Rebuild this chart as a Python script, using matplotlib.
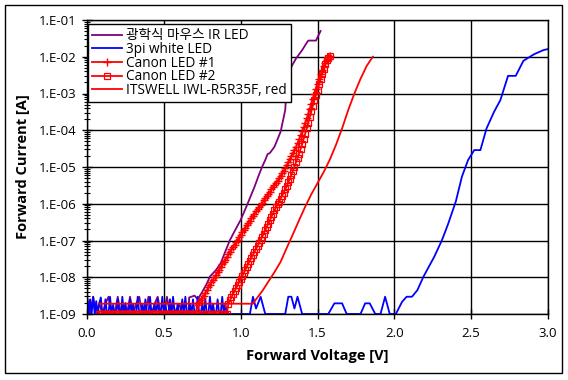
import numpy as np
import matplotlib
matplotlib.use('Agg')
import matplotlib.pyplot as plt
import matplotlib.ticker as ticker
from matplotlib.patches import Rectangle

plt.rcParams['font.family'] = ['Open Sans', 'Noto Sans CJK KR', 'DejaVu Sans']

# log10 of forward current [A]
# purple: optical mouse IR LED
ir_v = [0.00, 0.02, 0.04, 0.06, 0.08, 0.10, 0.12, 0.14, 0.16, 0.18, 0.20, 0.22,
        0.24, 0.26, 0.28, 0.30, 0.32, 0.34, 0.36, 0.38, 0.40, 0.42, 0.44, 0.46,
        0.48, 0.50, 0.52, 0.54, 0.56, 0.58, 0.60, 0.62, 0.64,
        0.66, 0.665, 0.70, 0.72, 0.75, 0.78, 0.80, 0.84, 0.87, 0.90, 0.93, 0.96,
        1.00, 1.04, 1.09, 1.12, 1.14, 1.16, 1.175, 1.19, 1.22, 1.26, 1.29, 1.295,
        1.33, 1.36, 1.40, 1.43, 1.44, 1.49, 1.52]
ir_log = [-8.53, -9, -8.53, -9, -8.72, -9, -8.72, -8.53, -9, -9, -8.53, -9,
          -8.72, -9, -8.53, -9, -8.72, -8.53, -9, -9, -8.53, -9, -8.72, -8.53,
          -9, -9, -8.53, -9, -8.72, -9, -8.72, -9, -9,
          -9, -8.55, -8.50, -8.60, -8.40, -8.17, -7.98, -7.80, -7.62, -7.30, -6.99, -6.75,
          -6.44, -6.05, -5.54, -5.20, -4.99, -4.81, -4.65, -4.62, -4.45, -4.04, -3.45, -3.09,
          -2.27, -2.05, -1.82, -1.62, -1.56, -1.56, -1.30]

# blue: 3pi white LED (noise floor sampled every 0.01 V up to 1.0 V)
white_noise_log = [-8.53, -9, -8.6, -9, -8.53, -9, -8.65, -9, -8.7, -8.55,
                   -9, -9, -8.6, -9, -9, -8.53, -9, -8.75, -9, -9,
                   -8.6, -9, -9, -8.53, -9, -8.7, -9, -9, -8.6, -9,
                   -8.72, -9, -9, -8.53, -9, -9, -8.72, -9, -8.6, -9,
                   -9, -8.53, -9, -9, -8.72, -9, -8.6, -9, -9, -8.53,
                   -9, -8.72, -9, -9, -8.6, -9, -8.53, -9, -9, -8.72,
                   -9, -9, -8.6, -9, -8.53, -9, -9, -8.72, -9, -8.6,
                   -9, -9, -8.53, -9, -9, -8.72, -9, -8.6, -9, -9,
                   -8.53, -9, -8.72, -9, -9, -8.6, -9, -9, -8.53, -9,
                   -8.7, -9, -9, -9, -9, -9, -9, -9, -9, -9, -9]
white_v = [1.06, 1.08, 1.10, 1.13, 1.16, 1.29, 1.31, 1.33, 1.35, 1.37, 1.40,
           1.57, 1.61, 1.66, 1.69, 1.78, 1.81, 1.84, 1.876, 1.91, 1.94, 1.97,
           2.01, 2.05, 2.08, 2.115, 2.15, 2.19, 2.26, 2.31, 2.35, 2.40, 2.44,
           2.48, 2.52, 2.56, 2.60, 2.65, 2.69, 2.74, 2.79, 2.84, 2.91, 2.97, 3.02]
white_log = [-9, -8.53, -8.85, -8.53, -9, -9, -8.53, -8.53, -8.85, -8.53, -9,
             -9, -8.71, -8.71, -9, -9, -8.71, -8.71, -9, -9, -8.53, -9,
             -9, -8.67, -8.53, -8.53, -8.35, -7.98, -7.44, -6.99, -6.55, -5.94, -5.26,
             -4.81, -4.54, -4.54, -3.95, -3.49, -3.18, -2.52, -2.52, -2.11, -1.93, -1.82, -1.77]

# Canon LED #1 ('+' markers), sweep 0.08 .. 1.58 V in 0.01 V steps
canon1_floor = 64          # points sitting at 1E-09 (0.08 .. 0.71 V)
canon1_log = [-8.75, -8.68, -8.62, -8.56, -8.50, -8.42, -8.35, -8.27, -8.20, -8.13,
              -8.07, -8.00, -7.93, -7.86, -7.79, -7.72, -7.65, -7.58, -7.52, -7.45,
              -7.38, -7.31, -7.24, -7.17, -7.11, -7.04, -6.98, -6.91, -6.85, -6.78,
              -6.72, -6.65, -6.59, -6.52, -6.46, -6.39, -6.33, -6.27, -6.21, -6.15,
              -6.09, -6.03, -5.97, -5.91, -5.85, -5.79, -5.73, -5.67, -5.61, -5.55,
              -5.49, -5.43, -5.37, -5.31, -5.24, -5.17, -5.10, -5.03, -4.95, -4.87,
              -4.78, -4.70, -4.62, -4.54, -4.45, -4.35, -4.25, -4.14, -4.03, -3.92,
              -3.80, -3.68, -3.55, -3.42, -3.28, -3.14, -3.00, -2.87, -2.73, -2.60,
              -2.48, -2.36, -2.25, -2.16, -2.08, -2.02, -1.97]

# Canon LED #2 (square markers), sweep 0.08 .. 1.58 V in 0.01 V steps
canon2_floor = 84          # points at 1E-09 (0.08 .. 0.91 V)
canon2_log = [-8.72, -8.63, -8.55, -8.46, -8.38, -8.30, -8.22, -8.13, -8.05, -7.97,
              -7.89, -7.80, -7.72, -7.63, -7.55, -7.47, -7.39, -7.31, -7.23, -7.15,
              -7.07, -6.99, -6.90, -6.81, -6.72, -6.63, -6.54, -6.45, -6.36, -6.27,
              -6.18, -6.10, -6.02, -5.94, -5.86, -5.78, -5.70, -5.61, -5.52, -5.42,
              -5.32, -5.21, -5.10, -4.99, -4.87, -4.76, -4.64, -4.51, -4.38, -4.24,
              -4.10, -3.95, -3.80, -3.64, -3.48, -3.33, -3.18, -3.04, -2.90, -2.75,
              -2.60, -2.46, -2.33, -2.21, -2.10, -2.03, -1.97]

# ITSWELL IWL-R5R35F, red
red_v = [0.08, 1.08, 1.10, 1.14, 1.18, 1.22, 1.26, 1.30, 1.34, 1.38, 1.42, 1.46,
         1.50, 1.54, 1.58, 1.62, 1.66, 1.70, 1.74, 1.78, 1.82, 1.86]
red_log = [-8.72, -8.72, -8.60, -8.38, -8.12, -7.86, -7.58, -7.20, -6.83, -6.45,
           -6.08, -5.74, -5.44, -5.14, -4.80, -4.40, -3.95, -3.45, -3.00, -2.60,
           -2.25, -2.00]

labels = ['광학식 마우스 IR LED', '3pi white LED', 'Canon LED #1', 'Canon LED #2',
          'ITSWELL IWL-R5R35F, red']

sweep = np.round(np.arange(0.08, 1.5801, 0.01), 2)
noise_v = np.round(np.arange(0.0, 1.0001, 0.01), 2)

fig = plt.figure(figsize=(5.68, 3.80), dpi=100)
ax = fig.add_axes([87/568, 1-314/380, 461/568, 294/380])

lw = 1.3
ax.plot(ir_v, 10**np.array(ir_log), color='#800080', lw=lw, label=labels[0])
ax.plot(list(noise_v) + white_v, 10**np.array(white_noise_log + white_log),
        color='#0000ff', lw=lw, label=labels[1])
c1 = [-9.0]*canon1_floor + canon1_log
ax.plot(sweep[:len(c1)], 10**np.array(c1), color='red', lw=lw, marker='+',
        ms=5.5, mew=1.0, label=labels[2])
c2 = [-9.0]*canon2_floor + canon2_log
ax.plot(sweep[:len(c2)], 10**np.array(c2), color='red', lw=lw, marker='s',
        ms=4.2, mew=0.9, mfc='none', label=labels[3])
ax.plot(red_v, 10**np.array(red_log), color='red', lw=lw, label=labels[4])

ax.set_yscale('log')
ax.set_xlim(0, 3.0)
ax.set_ylim(1e-9, 1e-1)
ax.xaxis.set_major_locator(ticker.MultipleLocator(0.5))
ax.xaxis.set_major_formatter(ticker.FormatStrFormatter('%.1f'))
ax.yaxis.set_major_locator(ticker.LogLocator(base=10, numticks=20))
ax.yaxis.set_minor_locator(ticker.LogLocator(base=10, subs=np.arange(2, 10), numticks=20))
ax.yaxis.set_minor_formatter(ticker.NullFormatter())
ax.yaxis.set_major_formatter(ticker.FuncFormatter(
    lambda v, p: '1.E-%02d' % round(-np.log10(v))))
ax.grid(True, which='major', color='black', lw=1.0)
ax.tick_params(axis='both', which='major', direction='inout', length=7, width=1.0,
               labelsize=9.5)
ax.tick_params(axis='y', which='minor', direction='inout', length=4, width=0.8)
ax.tick_params(axis='x', pad=6)
ax.tick_params(axis='y', pad=4)
for s in ax.spines.values():
    s.set_linewidth(1.0)

ax.set_xlabel('Forward Voltage [V]', fontsize=10.5, fontweight='bold', labelpad=6)
ax.set_ylabel('Forward Current [A]', fontsize=10.5, fontweight='bold', labelpad=6)

leg = ax.legend(loc='upper left', bbox_to_anchor=(0.003, 0.985), borderaxespad=0,
                fontsize=9.8, frameon=True, fancybox=False, edgecolor='black',
                framealpha=1, handlelength=2.2, handletextpad=0.3, labelspacing=-0.1,
                borderpad=0.3, numpoints=1)
leg.get_frame().set_linewidth(1.0)

fig.patches.append(Rectangle((5.3/568, 1-373.3/380), 556.4/568, 368.3/380,
                             transform=fig.transFigure, fill=False,
                             edgecolor='black', lw=1.0))

fig.savefig('out.png', dpi=100)
